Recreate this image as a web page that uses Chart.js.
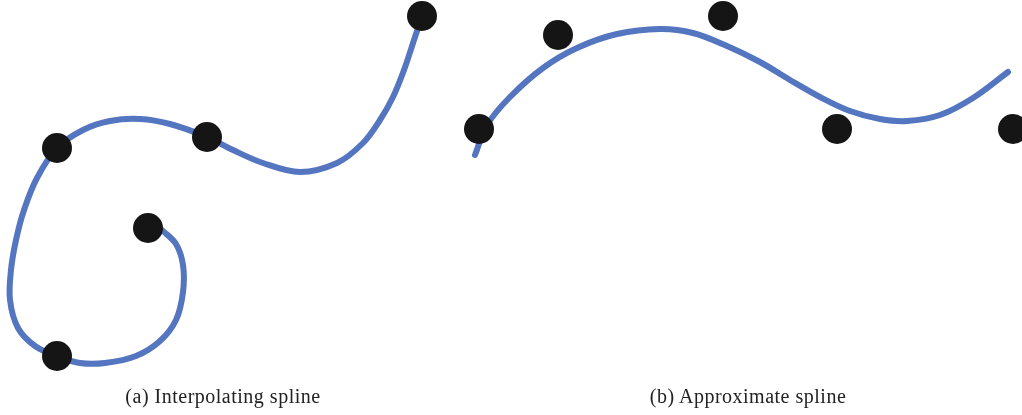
<!DOCTYPE html>
<html>
<head>
<meta charset="utf-8">
<script src="https://cdn.jsdelivr.net/npm/chart.js@4/dist/chart.umd.min.js"></script>
<style>
  html, body { margin: 0; padding: 0; background: #fff; }
  #wrap { position: relative; width: 1022px; height: 415px; overflow: hidden; }
  #plot { position: absolute; left: 0; top: 0; }
  .cap {
    position: absolute; top: 385px; font-family: "Liberation Serif", "DejaVu Serif", serif;
    font-size: 20px; letter-spacing: 0.5px; color: #222; transform: translateX(-50%); white-space: nowrap;
  }
</style>
</head>
<body>
<div id="wrap">
  <canvas id="plot" width="1022" height="415"></canvas>
  <div class="cap" style="left:223px">(a) Interpolating spline</div>
  <div class="cap" style="left:748px">(b) Approximate spline</div>
</div>
<script>
// Control points of the interpolating spline (a)
const ctrlAX = [148, 57, 57, 207, 422];
const ctrlAY = [228, 356, 148, 137, 16];

// Path of the interpolating curve (a)
const curveAX = [162, 176, 183, 183, 176, 160, 136, 105, 80, 57, 35, 18, 10, 11, 16, 24, 37, 57, 83, 110, 140, 170, 207, 233, 263, 300, 337, 363, 380, 393, 404, 414, 422];
const curveAY = [230, 244, 265, 292, 320, 341, 356, 363, 363, 356, 346, 328, 300, 270, 240, 210, 178, 148, 130, 121, 119, 124, 137, 150, 163, 172, 163, 143, 120, 97, 70, 40, 16];

// Control points of the approximating spline (b)
const ctrlBX = [479, 558, 723, 837, 1013];
const ctrlBY = [129, 35, 16, 129, 129];

// Path of the approximating curve (b)
const curveBX = [475, 487, 510, 543, 577, 617, 660, 693, 727, 760, 790, 820, 850, 880, 907, 940, 973, 1008];
const curveBY = [155, 125, 97, 68, 48, 34, 29, 33, 46, 62, 80, 97, 111, 119, 121, 115, 98, 72];

const zip = (xs, ys) => xs.map((x, i) => ({ x, y: ys[i] }));

const curveStyle = {
  showLine: true, borderColor: '#5475bf', borderWidth: 6, tension: 0.35,
  pointRadius: 0, pointHoverRadius: 0, borderCapStyle: 'round', borderJoinStyle: 'round',
  clip: false, order: 2
};
const markStyle = {
  showLine: false, pointRadius: 15, pointHoverRadius: 15, pointBackgroundColor: '#151515',
  pointBorderWidth: 0, borderWidth: 0, clip: false, order: 1
};

new Chart(document.getElementById('plot'), {
  type: 'scatter',
  data: {
    datasets: [
      { label: 'curve a', data: zip(curveAX, curveAY), ...curveStyle },
      { label: 'curve b', data: zip(curveBX, curveBY), ...curveStyle },
      { label: 'points a', data: zip(ctrlAX, ctrlAY), ...markStyle },
      { label: 'points b', data: zip(ctrlBX, ctrlBY), ...markStyle }
    ]
  },
  options: {
    responsive: false,
    animation: false,
    layout: { padding: 0, autoPadding: false },
    plugins: { legend: { display: false }, tooltip: { enabled: false } },
    scales: {
      x: { type: 'linear', min: 0, max: 1022, display: false },
      y: { type: 'linear', min: 0, max: 415, reverse: true, display: false }
    }
  }
});
</script>
</body>
</html>
